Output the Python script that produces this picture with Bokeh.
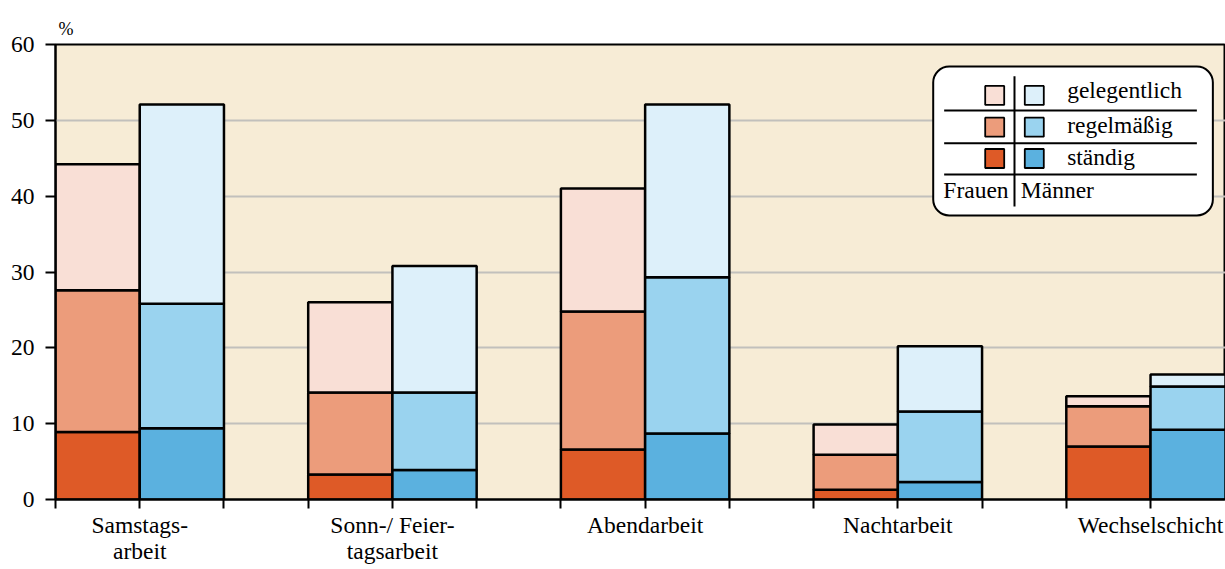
from bokeh.plotting import figure
from bokeh.models import ColumnDataSource, FixedTicker, Range1d, BoxAnnotation
from bokeh.core.properties import value
from bokeh.embed import file_html
from bokeh.resources import INLINE

categories = ["Samstags-\narbeit", "Sonn-/ Feier-\ntagsarbeit", "Abendarbeit", "Nachtarbeit", "Wechselschicht"]
levels = ["gelegentlich", "regelmäßig", "ständig"]
# stacked components (percent)
frauen_staendig = [8.9, 3.3, 6.6, 1.3, 7.0]
frauen_regel = [18.7, 10.8, 18.2, 4.6, 5.3]
frauen_gelegentlich = [16.6, 11.9, 16.2, 4.0, 1.3]
maenner_staendig = [9.4, 3.9, 8.7, 2.3, 9.2]
maenner_regel = [16.4, 10.2, 20.6, 9.3, 5.7]
maenner_gelegentlich = [26.3, 16.7, 22.8, 8.6, 1.6]
y_ticks = [0, 10, 20, 30, 40, 50, 60]

frauen_colors = ["#DE5A27", "#EC9C7B", "#F9DFD6"]
maenner_colors = ["#5BB1DF", "#9AD3EF", "#DDF0FA"]
FONT = "Liberation Serif"
FS = "23.5px"

n = len(categories)
fx = [3 * i + 0.5 for i in range(n)]
mx = [3 * i + 1.5 for i in range(n)]

src_f = ColumnDataSource(dict(x=fx, s=frauen_staendig, r=frauen_regel, g=frauen_gelegentlich))
src_m = ColumnDataSource(dict(x=mx, s=maenner_staendig, r=maenner_regel, g=maenner_gelegentlich))

p = figure(width=1225, height=569, output_backend="svg", toolbar_location=None,
           x_range=Range1d(0, 13.89), y_range=Range1d(0, 60),
           min_border_left=55, min_border_right=0, min_border_bottom=70, min_border_top=44)
p.background_fill_color = "#F7ECD6"
p.border_fill_color = "white"
p.outline_line_color = "black"
p.outline_line_width = 2

p.title.text = "%"
p.title.text_font = FONT
p.title.text_font_size = "18px"
p.title.text_font_style = "normal"
p.title.text_color = "black"
p.title.align = "left"
p.title.offset = 3
p.title.standoff = 12

p.vbar_stack(["s", "r", "g"], x="x", width=1, source=src_f, fill_color=frauen_colors,
             line_color="black", line_width=2.5)
p.vbar_stack(["s", "r", "g"], x="x", width=1, source=src_m, fill_color=maenner_colors,
             line_color="black", line_width=2.5)

p.xgrid.visible = False
p.ygrid.grid_line_color = "#C2C0BC"
p.ygrid.grid_line_width = 2
p.ygrid.ticker = FixedTicker(ticks=y_ticks)

p.yaxis.ticker = FixedTicker(ticks=y_ticks)
p.yaxis.minor_tick_line_color = None
p.yaxis.major_tick_in = 0
p.yaxis.major_tick_out = 10
p.yaxis.major_tick_line_width = 2
p.yaxis.axis_line_width = 2
p.yaxis.major_label_standoff = 11
p.yaxis.major_label_text_font = FONT
p.yaxis.major_label_text_font_size = FS
p.yaxis.major_label_text_color = "black"

xt = list(range(0, 3 * n))
p.xaxis.ticker = FixedTicker(ticks=xt)
overrides = {t: "" for t in xt}
for i, c in enumerate(categories):
    overrides[3 * i + 1] = c
p.xaxis.major_label_overrides = overrides
p.xaxis.minor_tick_line_color = None
p.xaxis.major_tick_in = 0
p.xaxis.major_tick_out = 9
p.xaxis.major_tick_line_width = 2
p.xaxis.axis_line_width = 2
p.xaxis.major_label_standoff = 3
p.xaxis.major_label_text_font = FONT
p.xaxis.major_label_text_font_size = FS
p.xaxis.major_label_text_color = "black"
p.xaxis.major_label_text_line_height = 1.0

# legend (layout in data coordinates)
p.add_layout(BoxAnnotation(left=10.42, right=13.74, bottom=37.45, top=57.1,
                           fill_color="white", fill_alpha=1, line_color="black",
                           line_alpha=1, line_width=2, border_radius=16, level="underlay"))
sq_y = [53.28, 49.1, 44.97]
p.scatter([11.15] * 3, sq_y, marker="square", size=19, fill_color=frauen_colors[::-1],
          line_color="black", line_width=1.8)
p.scatter([11.62] * 3, sq_y, marker="square", size=19, fill_color=maenner_colors[::-1],
          line_color="black", line_width=1.8)
hl = [51.3, 46.99, 42.86]
p.segment(x0=[10.55] * 3, x1=[13.55] * 3, y0=hl, y1=hl, line_color="black", line_width=2)
p.segment(x0=[11.385], x1=[11.385], y0=[38.64], y1=[55.82], line_color="black", line_width=2)
p.text(x=[12.01] * 3, y=[53.97, 49.36, 45.23], text=levels, text_font=value(FONT),
       text_font_size=FS, text_baseline="alphabetic", text_align="left")
p.text(x=[10.54, 11.46], y=[40.84, 40.84], text=["Frauen", "Männer"], text_font=value(FONT),
       text_font_size=FS, text_baseline="alphabetic", text_align="left")

open("out.html", "w").write(file_html(p, INLINE))
